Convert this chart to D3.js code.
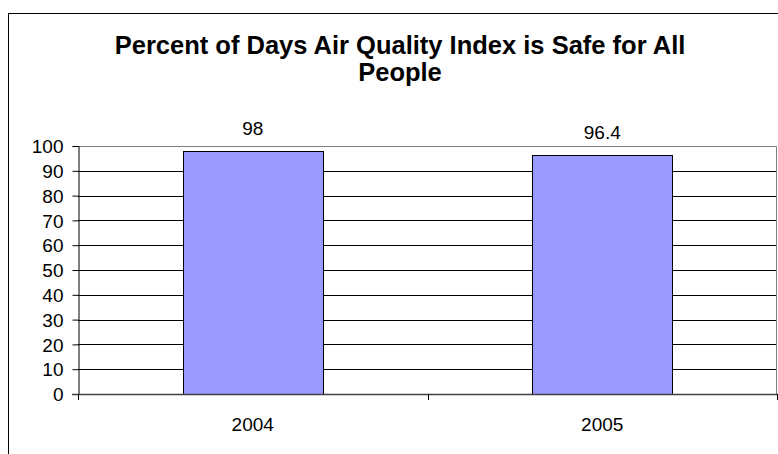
<!DOCTYPE html>
<html>
<head>
<meta charset="utf-8">
<script src="https://cdn.jsdelivr.net/npm/d3@7"></script>
<style>
  body { margin:0; background:#fff; }
  svg text { font-family: "Liberation Sans", Arial, sans-serif; fill:#000; }
  .titulo { font-weight:bold; font-size:25.5px; }
  .textos { font-size:19px; }
</style>
</head>
<body>
<div id="zona_grafica"></div>
<script>
// datos del grafico
var categorias = ["2004", "2005"];
var valores = [98, 96.4];
var ticksY = [0, 10, 20, 30, 40, 50, 60, 70, 80, 90, 100];
var tituloLineas = ["Percent of Days Air Quality Index is Safe for All", "People"];

var width = 778, height = 454;
var margin = {top:146, right:1, left:78, bottom:60};

var svg = d3.select("#zona_grafica")
    .append("svg")
    .attr("width", width)
    .attr("height", height);

// marco exterior
svg.append("rect")
    .attr("x", 8.5).attr("y", 13.5)
    .attr("width", width + 10).attr("height", height + 10)
    .attr("fill", "none").attr("stroke", "#000");

// escalas
var escalaX = d3.scaleBand()
    .domain(categorias)
    .range([margin.left, width - margin.right]);

var escalaY = d3.scaleLinear()
    .domain([0, 100])
    .range([height - margin.bottom, margin.top]);

var y0 = escalaY(0);

// titulo en dos lineas
svg.append("text")
    .attr("class", "titulo")
    .attr("text-anchor", "middle")
    .selectAll("tspan")
    .data(tituloLineas).enter()
    .append("tspan")
    .attr("x", 400)
    .attr("y", (d, i) => 54 + i * 27)
    .text(d => d);

// lineas de cuadricula
svg.append("g")
    .selectAll("line")
    .data(ticksY.filter(d => d > 0 && d < 100)).enter()
    .append("line")
    .attr("x1", margin.left).attr("x2", width - margin.right)
    .attr("y1", d => Math.round(escalaY(d)) + 0.5)
    .attr("y2", d => Math.round(escalaY(d)) + 0.5)
    .attr("stroke", "#000");

// borde del area de trazado (gris)
svg.append("path")
    .attr("d", "M" + margin.left + "," + (Math.round(escalaY(100)) + 0.5) +
               "H" + (width - margin.right - 0.5) +
               "V" + y0)
    .attr("fill", "none")
    .attr("stroke", "#808080");

// barras
var bw = escalaX.bandwidth() * 0.4;
svg.append("g")
    .selectAll(".bar")
    .data(valores).enter()
    .append("rect")
    .attr("class", "bar")
    .attr("x", (d, i) => Math.round(escalaX(categorias[i]) + (escalaX.bandwidth() - bw) / 2) + 0.5)
    .attr("y", d => Math.round(escalaY(d)) + 0.5)
    .attr("width", Math.round(bw))
    .attr("height", d => Math.round(y0 - escalaY(d)))
    .attr("fill", "#9999FF")
    .attr("stroke", "#000");

// etiquetas de datos
svg.append("g")
    .selectAll("text")
    .data(valores).enter()
    .append("text")
    .attr("class", "textos")
    .attr("text-anchor", "middle")
    .attr("x", (d, i) => escalaX(categorias[i]) + escalaX.bandwidth() / 2)
    .attr("y", d => escalaY(d) - 16)
    .text(d => d);

// eje Y
var ejeY = d3.axisLeft(escalaY)
    .tickValues(ticksY)
    .tickSize(6)
    .tickPadding(9);

svg.append("g")
    .attr("class", "ejeY")
    .attr("transform", "translate(" + (margin.left + 0.5) + ",0)")
    .call(ejeY)
    .call(g => g.select(".domain").attr("stroke", "#000"))
    .call(g => g.selectAll(".tick line").attr("stroke", "#000"))
    .call(g => g.selectAll(".tick text")
        .attr("font-size", "19px")
        .attr("font-family", "'Liberation Sans', Arial, sans-serif")
        .attr("dy", "0.35em"));

// eje X: etiquetas de categoria
var ejeX = d3.axisBottom(escalaX).tickSize(0).tickPadding(23);
svg.append("g")
    .attr("class", "ejeX")
    .attr("transform", "translate(0," + (y0 + 0.5) + ")")
    .call(ejeX)
    .call(g => g.select(".domain").remove())
    .call(g => g.selectAll(".tick text")
        .attr("font-size", "19px")
        .attr("font-family", "'Liberation Sans', Arial, sans-serif"));

svg.append("line")
    .attr("x1", margin.left - 6).attr("x2", width)
    .attr("y1", y0 + 0.5).attr("y2", y0 + 0.5)
    .attr("stroke", "#404040").attr("stroke-width", 1.5);

// marcas entre categorias
svg.append("g")
    .selectAll("line")
    .data(categorias.concat(["fin"])).enter()
    .append("line")
    .attr("x1", (d, i) => Math.round(margin.left + i * escalaX.bandwidth()) + 0.5)
    .attr("x2", (d, i) => Math.round(margin.left + i * escalaX.bandwidth()) + 0.5)
    .attr("y1", y0).attr("y2", y0 + 6)
    .attr("stroke", "#000");
</script>
</body>
</html>
